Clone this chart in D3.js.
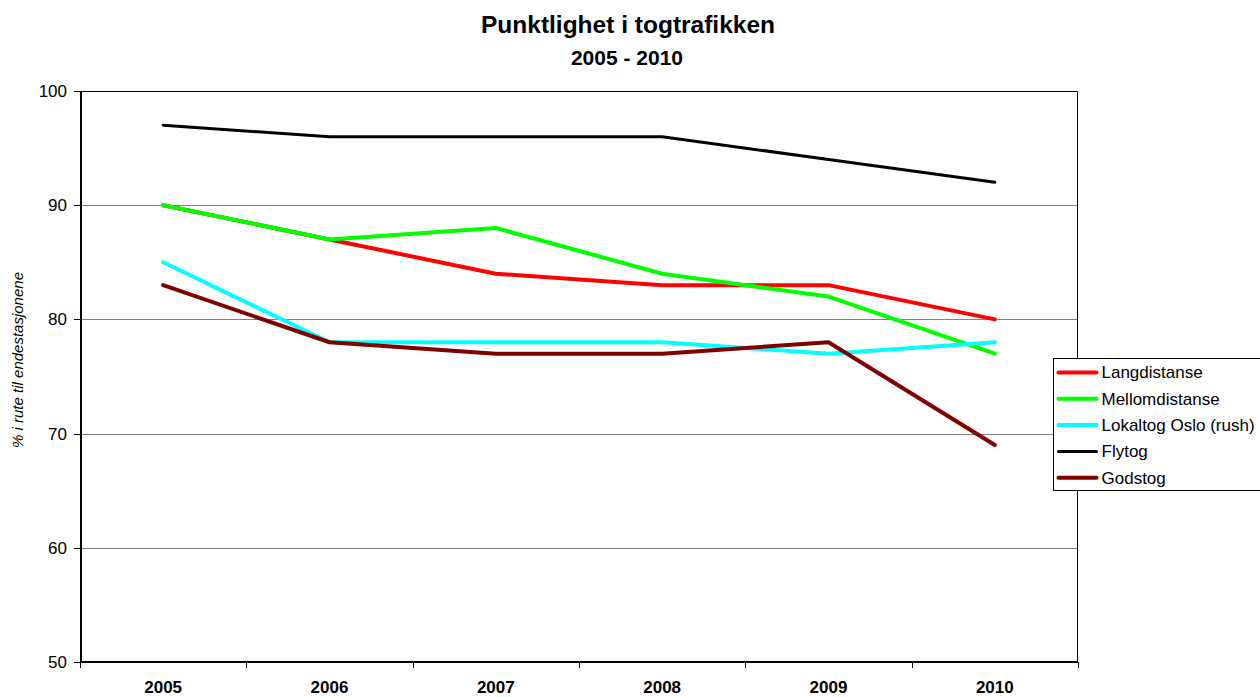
<!DOCTYPE html>
<html>
  <head>
    <script src="https://d3js.org/d3.v7.min.js"></script>
    <style>
      body { margin: 0; background: #fff; overflow: hidden; }
      svg { font-family: "Liberation Sans", Arial, sans-serif; display: block; }
      .axis path, .axis line { fill: none; stroke: #000; shape-rendering: crispEdges; }
      .grid line { stroke: #808080; shape-rendering: crispEdges; }
    </style>
  </head>
  <body>
    <script>
      // Data
      var years = ["2005", "2006", "2007", "2008", "2009", "2010"];
      var seriesNames = ["Langdistanse", "Mellomdistanse", "Lokaltog Oslo (rush)", "Flytog", "Godstog"];
      var langdistanse = [90, 87, 84, 83, 83, 80];
      var mellomdistanse = [90, 87, 88, 84, 82, 77];
      var lokaltog = [85, 78, 78, 78, 77, 78];
      var flytog = [97, 96, 96, 96, 94, 92];
      var godstog = [83, 78, 77, 77, 78, 69];
      var yTicks = [50, 60, 70, 80, 90, 100];

      var colors = ["#ff0000", "#00ff00", "#00ffff", "#000000", "#800000"];
      var widths = [4, 4, 4, 3, 4];
      var values = [langdistanse, mellomdistanse, lokaltog, flytog, godstog];

      var margin = { top: 91, right: 182, bottom: 35, left: 80 },
        width = 1260 - margin.left - margin.right,
        height = 697 - margin.top - margin.bottom;

      var svg = d3.select("body").append("svg")
        .attr("width", 1260)
        .attr("height", 697);

      var g = svg.append("g")
        .attr("transform", "translate(" + margin.left + "," + margin.top + ")");

      var x = d3.scaleBand().domain(years).range([0, width]);
      var y = d3.scaleLinear().domain([50, 100]).range([height, 0]);

      // Title
      svg.append("text")
        .attr("x", 628).attr("y", 33)
        .attr("text-anchor", "middle")
        .style("font-size", "24.5px").style("font-weight", "bold")
        .text("Punktlighet i togtrafikken");
      svg.append("text")
        .attr("x", 627).attr("y", 65)
        .attr("text-anchor", "middle")
        .style("font-size", "21px").style("font-weight", "bold")
        .text("2005 - 2010");

      // Gridlines
      g.append("g").attr("class", "grid")
        .selectAll("line")
        .data(yTicks.slice(1, -1))
        .enter().append("line")
        .attr("x1", 0).attr("x2", width)
        .attr("y1", function(d) { return Math.round(y(d)) + 0.5; })
        .attr("y2", function(d) { return Math.round(y(d)) + 0.5; });

      // Plot border (top and right)
      g.append("path")
        .attr("d", "M0,0.5H" + (width - 0.5) + "V" + height)
        .attr("fill", "none").attr("stroke", "#000");

      // Y axis
      var yAxis = g.append("g").attr("class", "axis")
        .call(d3.axisLeft(y).tickValues(yTicks).tickSize(6).tickSizeOuter(0));
      yAxis.selectAll("text").style("font-size", "17px").attr("x", -13);
      yAxis.select(".domain").attr("stroke-width", 2);

      // X axis with ticks at category boundaries
      var xAxis = g.append("g").attr("class", "axis")
        .attr("transform", "translate(0," + height + ")");
      xAxis.append("line").attr("x1", 0).attr("x2", width).attr("y1", 0).attr("y2", 0).attr("stroke-width", 2);
      xAxis.selectAll(".tk")
        .data(years.concat(["end"]))
        .enter().append("line")
        .attr("class", "tk")
        .attr("x1", function(d, i) { return Math.round(i * x.bandwidth()) + 0.5; })
        .attr("x2", function(d, i) { return Math.round(i * x.bandwidth()) + 0.5; })
        .attr("y1", 0).attr("y2", 6);
      xAxis.selectAll("text")
        .data(years)
        .enter().append("text")
        .attr("x", function(d) { return x(d) + x.bandwidth() / 2; })
        .attr("y", 31)
        .attr("text-anchor", "middle")
        .style("font-size", "17px").style("font-weight", "bold")
        .text(function(d) { return d; });

      // Y label
      svg.append("text")
        .attr("transform", "translate(23,360) rotate(-90)")
        .attr("text-anchor", "middle")
        .style("font-size", "15px").style("font-style", "italic")
        .text("% i rute til endestasjonene");

      // Lines
      var line = d3.line()
        .x(function(d, i) { return x(years[i]) + x.bandwidth() / 2; })
        .y(function(d) { return y(d); });

      g.selectAll(".series")
        .data(values)
        .enter().append("path")
        .attr("class", "series")
        .attr("fill", "none")
        .attr("stroke", function(d, i) { return colors[i]; })
        .attr("stroke-width", function(d, i) { return widths[i]; })
        .attr("stroke-linejoin", "round")
        .attr("stroke-linecap", "round")
        .attr("d", line);

      // Legend (runs off the right edge, as in the original)
      var lg = svg.append("g").attr("transform", "translate(1053.5,358.5)");
      lg.append("rect")
        .attr("width", 240).attr("height", 132)
        .attr("fill", "#fff").attr("stroke", "#000");
      var items = lg.selectAll(".item")
        .data(seriesNames)
        .enter().append("g")
        .attr("transform", function(d, i) { return "translate(0," + (14 + i * 26.3) + ")"; });
      items.append("line")
        .attr("x1", 5).attr("x2", 43)
        .attr("stroke", function(d, i) { return colors[i]; })
        .attr("stroke-width", function(d, i) { return widths[i]; })
        .attr("stroke-linecap", "round");
      items.append("text")
        .attr("x", 48).attr("dy", "0.35em")
        .style("font-size", "17px")
        .text(function(d) { return d; });
    </script>
  </body>
</html>
